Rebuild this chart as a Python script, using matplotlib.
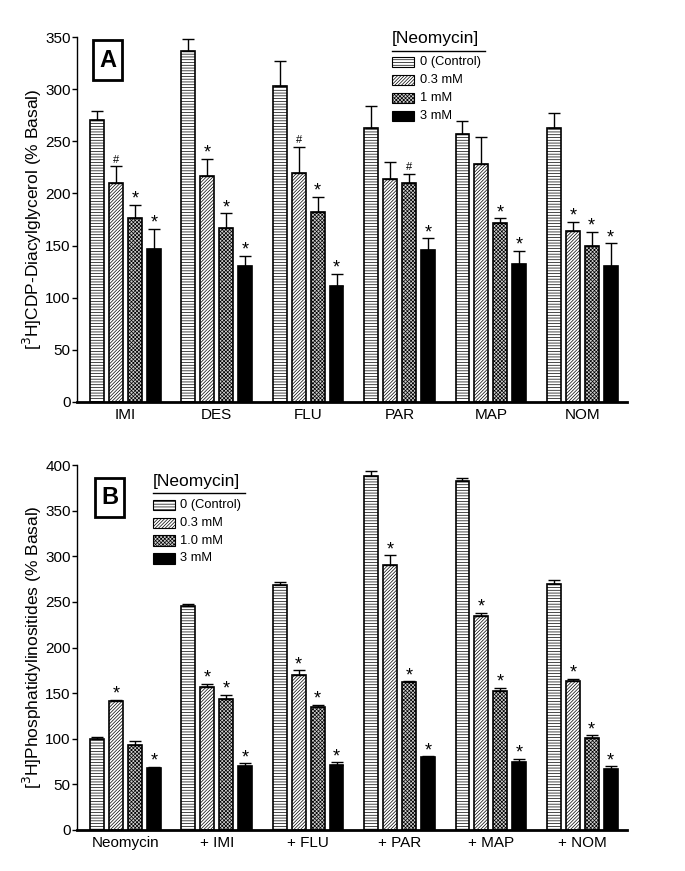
import matplotlib
matplotlib.use("Agg")
import matplotlib.pyplot as plt
import numpy as np
from matplotlib.patches import Rectangle

plt.rcParams["font.family"] = ["Liberation Sans", "DejaVu Sans"]
plt.rcParams["hatch.linewidth"] = 0.5

# --------------------------------------------------------------------------
# DATA
# --------------------------------------------------------------------------
groups_a = ["IMI", "DES", "FLU", "PAR", "MAP", "NOM"]
legend_a = ["0 (Control)", "0.3 mM", "1 mM", "3 mM"]
means_a = [
    [270, 337, 303, 263, 257, 263],   # control
    [210, 217, 220, 214, 228, 164],   # 0.3 mM
    [176, 167, 182, 210, 172, 150],   # 1 mM
    [147, 130, 111, 146, 132, 130],   # 3 mM
]
errs_a = [
    [9, 11, 24, 21, 12, 14],
    [16, 16, 25, 16, 26, 9],
    [13, 14, 15, 9, 4, 13],
    [19, 10, 12, 11, 13, 22],
]
marks_a = [
    ["", "", "", "", "", ""],
    ["#", "*", "#", "", "", "*"],
    ["*", "*", "*", "#", "*", "*"],
    ["*", "*", "*", "*", "*", "*"],
]

groups_b = ["Neomycin", "+ IMI", "+ FLU", "+ PAR", "+ MAP", "+ NOM"]
legend_b = ["0 (Control)", "0.3 mM", "1.0 mM", "3 mM"]
means_b = [
    [100, 245, 269, 388, 382, 270],
    [141, 157, 170, 290, 234, 163],
    [93, 144, 135, 162, 152, 101],
    [68, 70, 71, 80, 75, 67],
]
errs_b = [
    [2, 3, 3, 6, 4, 4],
    [2, 3, 5, 11, 4, 3],
    [4, 4, 2, 1, 4, 3],
    [1, 3, 3, 1, 3, 3],
]
marks_b = [
    ["", "", "", "", "", ""],
    ["*", "*", "*", "*", "*", "*"],
    ["", "*", "*", "*", "*", "*"],
    ["*", "*", "*", "*", "*", "*"],
]

HATCHES = ["------", "//////////", "xxxxxxxxx", None]
FACES = ["white", "white", "#d0d0d0", "black"]
BAR_W = 0.152
BAR_STEP = 0.207


def draw_panel(ax, groups, means, errs, marks, ymax, ylabel, letter, letter_xy,
               legend_labels, legend_xy):
    x = np.arange(len(groups))
    offsets = (np.arange(4) - 1.5) * BAR_STEP
    for i in range(4):
        xs = x + offsets[i]
        ax.bar(xs, means[i], width=BAR_W, color=FACES[i], edgecolor="black",
               hatch=HATCHES[i], linewidth=1.2, zorder=2)
        ax.errorbar(xs, means[i], yerr=[np.zeros(len(xs)), errs[i]], fmt="none",
                    ecolor="black", elinewidth=1.0, capsize=4, capthick=1.0, zorder=3)
        for xi, m, e, s in zip(xs, means[i], errs[i], marks[i]):
            if s:
                size = 8 if s == "#" else 13
                pad = ymax * 0.004 if s == "#" else -ymax * 0.008
                ax.text(xi, m + e + pad, s, ha="center", va="bottom",
                        fontsize=size, zorder=4)

    ax.set_xlim(-0.53, 5.49)
    ax.set_ylim(0, ymax)
    ax.set_yticks(np.arange(0, ymax + 1, 50))
    ax.set_xticks(x)
    ax.set_xticklabels(groups, fontsize=11)
    ax.tick_params(axis="x", length=0, pad=4)
    ax.tick_params(axis="y", labelsize=11, length=3.5, width=1, pad=1)
    ax.spines["top"].set_visible(False)
    ax.spines["right"].set_visible(False)
    ax.spines["bottom"].set_linewidth(2.0)
    ax.spines["left"].set_linewidth(1.0)
    ax.set_ylabel(ylabel, fontsize=12.5)
    ax.yaxis.set_label_coords(-0.06, 0.5)

    # panel letter in a box
    bx, by = letter_xy
    ax.add_patch(Rectangle((bx - 0.0265, by - 0.0535), 0.053, 0.107,
                           transform=ax.transAxes, facecolor="white",
                           edgecolor="black", linewidth=2.0, zorder=5))
    ax.text(bx, by, letter, transform=ax.transAxes, ha="center", va="center",
            fontsize=17, fontweight="bold", zorder=6)

    # hand-built legend
    lx, ly = legend_xy
    ax.text(lx, ly, "[Neomycin]", transform=ax.transAxes, ha="left", va="center",
            fontsize=12.5)
    ax.plot([lx, lx + 0.168], [ly - 0.032, ly - 0.032], transform=ax.transAxes,
            color="black", lw=1.0, clip_on=False)
    for i, lab in enumerate(legend_labels):
        yy = ly - 0.064 - i * 0.049
        ax.add_patch(Rectangle((lx, yy - 0.014), 0.04, 0.028, transform=ax.transAxes,
                               facecolor=FACES[i], edgecolor="black", hatch=HATCHES[i],
                               linewidth=0.8, clip_on=False))
        ax.text(lx + 0.05, yy, lab, transform=ax.transAxes, ha="left", va="center",
                fontsize=9.3)


fig = plt.figure(figsize=(6.85, 8.71), dpi=100)
ax_a = fig.add_axes([0.1124, 0.5385, 0.8029, 0.419])
ax_b = fig.add_axes([0.1124, 0.0471, 0.8029, 0.419])

draw_panel(ax_a, groups_a, means_a, errs_a, marks_a, 350,
           "[$^3$H]CDP-Diacylglycerol (% Basal)", "A", (0.056, 0.937),
           legend_a, (0.573, 0.995))
draw_panel(ax_b, groups_b, means_b, errs_b, marks_b, 400,
           "[$^3$H]Phosphatidylinositides (% Basal)", "B", (0.059, 0.912),
           legend_b, (0.138, 0.955))

fig.savefig("out.png", dpi=100)
